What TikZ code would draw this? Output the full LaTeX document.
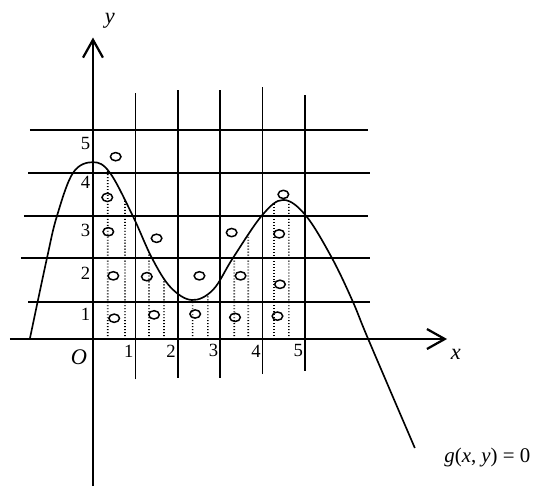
\documentclass[tikz,border=0pt]{standalone}
\usepackage{fontspec}
\setmainfont{Liberation Serif}
\usepackage{tikz}
\usetikzlibrary{arrows.meta,shapes.geometric,intersections}

\tikzset{
  axisline/.style={line width=1.5pt,-{Straight Barb[length=0.42cm,width=0.47cm]}},
  gridline/.style={line width=1.15pt},
  dotline/.style={line width=1.1pt,dash pattern=on 0.6pt off 1.4pt},
  pt/.style={draw,ellipse,line width=1pt,minimum width=0.25cm,minimum height=0.195cm,inner sep=0pt},
  num/.style={font=\fontsize{12.5}{14}\selectfont,inner sep=0pt},
  lbl/.style={font=\fontsize{15}{17}\selectfont\itshape,inner sep=0pt}
}

\begin{document}
\begin{tikzpicture}
  \useasboundingbox (-2.193,-3.467) rectangle (10.613,7.995);
  % grid
  \foreach \y/\a/\b in {0.88/-1.53/6.53, 1.91/-1.70/6.53, 2.90/-1.63/6.49, 3.915/-1.53/6.53, 4.93/-1.49/6.49}
    \draw[gridline] (\a,\y) -- (\b,\y);
  \foreach \x/\t/\b in {1/5.79/-0.95, 2/5.87/-0.91, 3/5.87/-0.91, 4/5.94/-0.83, 5/5.75/-0.75}{
    \draw[gridline] (\x,\b) -- (\x,\t);
    \node[num,anchor=east] (xn\x) at (\x-0.04,-0.28) {\x};
  }
  \foreach \y/\n in {0.57/1, 1.56/2, 2.57/3, 3.69/4, 4.60/5}
    \node[num,anchor=east] (yn\n) at (-0.06,\y) {\n};
  % axes
  \coordinate (xs) at (-1.96,0); \coordinate (xe) at (8.35,0);
  \coordinate (ys) at (0,-3.47); \coordinate (ye) at (0,7.11);
  \draw[axisline] (xs) -- (xe);
  \draw[axisline] (ys) -- (ye);
  \node[lbl] (xl) at (8.56,-0.36) {x};
  \node[lbl] (yl) at (0.40,7.51) {y};
  \node[lbl] (O) at (-0.33,-0.43) {O};
  % curve g(x,y)=0
  \coordinate (gend) at (7.59,-2.57);
  \draw[line width=1.1pt,name path=curve] plot[smooth,tension=0.6] coordinates {(-1.49,0) (-1.085,1.91) (-0.85,2.90) (-0.47,3.92) (0,4.17) (0.40,3.92) (0.94,2.90) (1.39,1.91) (1.83,1.22) (2.33,0.92) (2.83,1.16) (3.30,1.91) (3.99,2.92) (4.49,3.28) (5.02,2.91) (5.63,1.92) (6.12,0.90) (6.49,0) (gend)};
  \node[font=\fontsize{14}{16}\selectfont,inner sep=0pt,anchor=west] (glbl) at (8.28,-2.8) {\textit{g}(\textit{x}, \textit{y}) = 0};
  % dotted verticals up to the curve
  \foreach \d in {0.347,0.755,1.32,1.675,2.35,2.71,3.33,3.66,4.27,4.62}{
    \path[name path=vl] (\d,0) -- (\d,5);
    \path[name intersections={of=curve and vl,by={top}}];
    \coordinate (foot) at (\d,0);
    \draw[dotline] (foot) -- (top);
  }
  % sample points
  \foreach \px/\py [count=\i] in {0.535/4.30, 0.337/3.34, 0.361/2.53, 1.50/2.375, 3.27/2.51, 4.49/3.41, 4.39/2.48,
      0.479/1.49, 1.27/1.47, 2.51/1.49, 3.48/1.49, 4.41/1.29,
      0.50/0.49, 1.44/0.57, 2.41/0.59, 3.35/0.51, 4.35/0.54}
    \node[pt] (c\i) at (\px,\py) {};
\end{tikzpicture}
\end{document}
